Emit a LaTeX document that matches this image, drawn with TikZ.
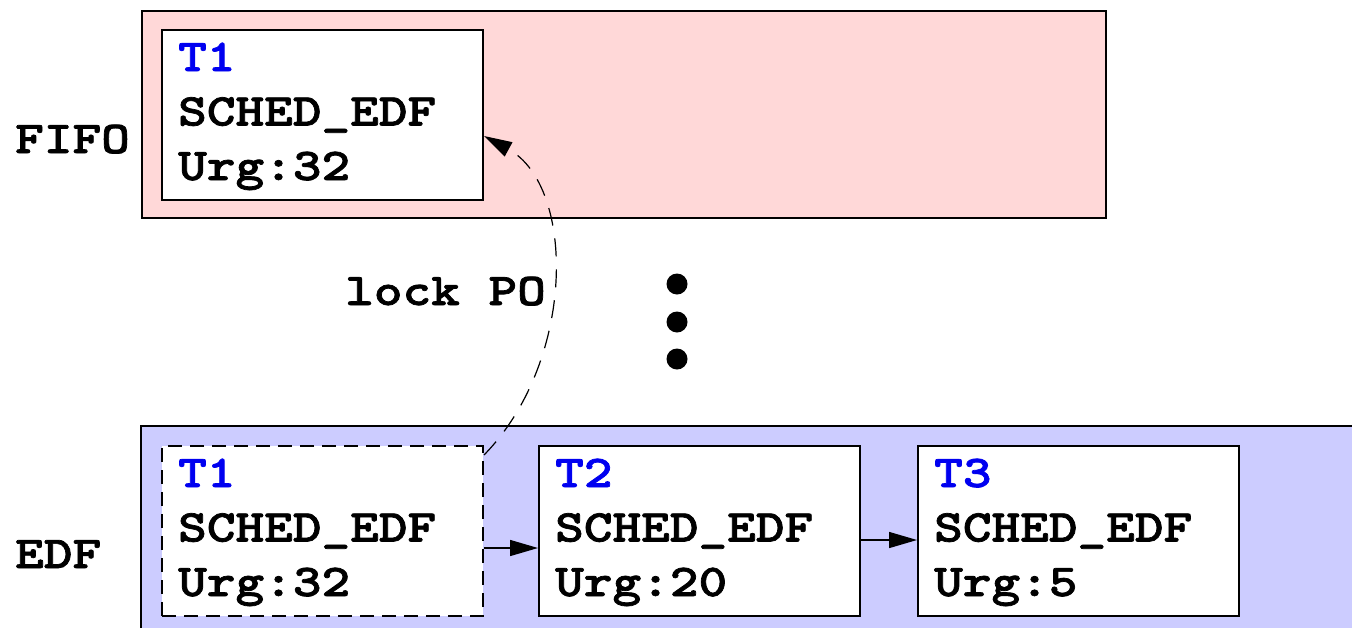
\documentclass[tikz,border=0pt]{standalone}
\usepackage{fontspec}
\newfontfamily\cour{lmmonolt10-bold.otf}[FakeStretch=1.2,FakeBold=1.6]
\usetikzlibrary{arrows.meta}
\definecolor{fifofill}{RGB}{255,216,216}
\definecolor{edffill}{RGB}{204,204,255}
\definecolor{tidblue}{RGB}{0,0,240}

% three text lines of a task box, placed from the box's top-left corner
\newcommand\tasklines[3]{%
  \node[txt,text=tidblue] (#1-id)  at ([shift={(17,42)}]#1.north west) {#2};
  \node[txt]              (#1-pol) at ([shift={(17,96.5)}]#1.north west) {SCHED\_EDF};
  \node[txt]              (#1-urg) at ([shift={(17,151)}]#1.north west) {#3};
}

\begin{document}
\begin{tikzpicture}[x=1pt,y=-1pt,
  queue/.style={inner sep=0pt, anchor=north west},
  task/.style={draw, fill=white, line width=2pt, inner sep=0pt,
    minimum width=321pt, minimum height=170pt, anchor=north west},
  txt/.style={font=\cour\fontsize{45.5}{53}\selectfont, anchor=base west, inner sep=0pt},
  conn/.style={line width=1.5pt, -{Triangle[length=28pt,width=16pt]}},
  dot/.style={circle, fill=black, inner sep=0pt, minimum size=21pt}]
\useasboundingbox (0,0) rectangle (1352,627);

% FIFO queue
\node[queue, draw, line width=1.8pt, fill=fifofill,
  minimum width=964pt, minimum height=207pt] (fifo) at (141,10) {};
\node[txt] (fifolbl) at (15,153) {FIFO};
\node[task] (t1a) at (161,29) {};
\tasklines{t1a}{T1}{Urg:32}

% EDF queue (continues past the right and bottom edges)
\node[queue, fill=edffill, minimum width=1220pt, minimum height=210pt] (edf) at (141,426) {};
\draw[line width=1.8pt] (edf.south west) -- (edf.north west) -- (edf.north east);
\node[txt] (edflbl) at (15,568) {EDF};

\node[task, dashed, dash pattern=on 14pt off 8pt] (t1b) at (161,445) {};
\tasklines{t1b}{T1}{Urg:32}
\node[task] (t2) at (538,445) {};
\tasklines{t2}{T2}{Urg:20}
\node[task] (t3) at (917,445) {};
\tasklines{t3}{T3}{Urg:5}

\draw[conn] ([yshift=-17pt]t1b.east) -- ([yshift=-17pt]t2.west);
\draw[conn] ([yshift=-9pt]t2.east) -- ([yshift=-9pt]t3.west);

% migration of T1 when it locks the object
\draw[line width=1.2pt, dash pattern=on 18pt off 13pt, -{Triangle[length=28pt,width=16pt]}]
  ([yshift=-10pt]t1b.north east) .. controls (576,361) and (576,186) .. ([yshift=-21pt]t1a.east);
\node[txt] (lockpo) at (345,305) {lock PO};

% ellipsis between the queues
\node[dot] (d1) at (677,284) {};
\node[dot] (d2) at (677,322) {};
\node[dot] (d3) at (677,359) {};
\end{tikzpicture}
\end{document}
